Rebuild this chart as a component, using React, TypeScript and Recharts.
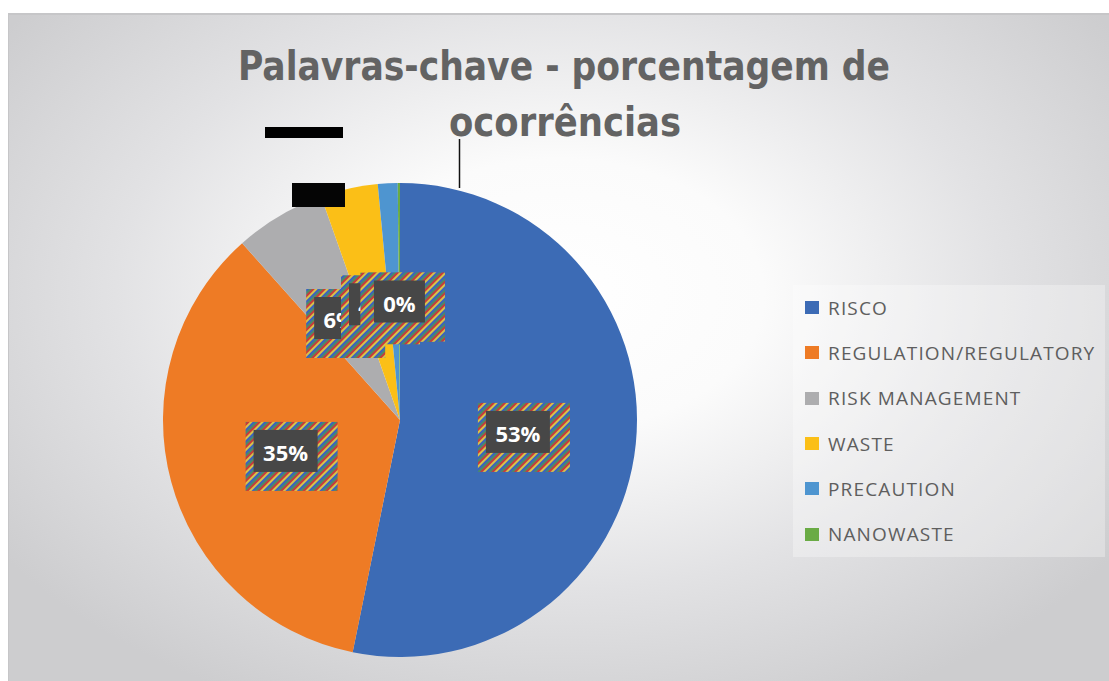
import React from 'react';
import { PieChart, Pie, Cell, Legend } from 'recharts';

// keyword shares (% of occurrences)
const keywords = ['RISCO', 'REGULATION/REGULATORY', 'RISK MANAGEMENT', 'WASTE', 'PRECAUTION', 'NANOWASTE'];
const shares = [53.2, 35.2, 6.2, 3.9, 1.35, 0.15];
const sliceColors = ['#3c6bb5', '#ee7b25', '#adadaf', '#fbbf17', '#4e95d0', '#6aab45'];

const titleLines = ['Palavras-chave - porcentagem de', 'ocorrências'];

const data = keywords.map((name, i) => ({ name, value: shares[i] }));

const RAD = Math.PI / 180;

const renderLabel = (props: any) => {
  const { cx, cy, midAngle, outerRadius, percent, index } = props;
  const r = outerRadius * 0.5;
  const x = cx + r * Math.cos(-midAngle * RAD);
  const y = cy + r * Math.sin(-midAngle * RAD);
  const text = `${Math.round(percent * 100)}%`;
  const w = (text.length - 1) * 13 + 38;
  const h = 42;
  const pid = `stripes-${index}`;
  return (
    <g>
      <defs>
        <pattern id={pid} width={8} height={8} patternUnits="userSpaceOnUse" patternTransform="rotate(45)">
          <rect x={0} y={0} width={2} height={8} fill="#c83a3a" />
          <rect x={2} y={0} width={2} height={8} fill="#d8c24a" />
          <rect x={4} y={0} width={2} height={8} fill="#3a62c0" />
          <rect x={6} y={0} width={2} height={8} fill="#4a8a6a" />
        </pattern>
      </defs>
      <rect x={x - w / 2 - 8} y={y - h / 2 - 8} width={w + 28} height={h + 27} fill={`url(#${pid})`} />
      <rect x={x - w / 2} y={y - h / 2} width={w} height={h} fill="#474747" />
      <text
        x={x}
        y={y + 1}
        fill="#ffffff"
        textAnchor="middle"
        dominantBaseline="central"
        fontFamily="'Open Sans', sans-serif"
        fontWeight={700}
        fontSize={22}
      >
        {text}
      </text>
    </g>
  );
};

const renderLegend = () => (
  <div>
    {keywords.map((k, i) => (
      <div key={k} style={{ display: 'flex', alignItems: 'center', height: 45.3, paddingLeft: 12 }}>
        <span style={{ display: 'inline-block', width: 14, height: 13, background: sliceColors[i], marginRight: 9 }} />
        <span
          style={{
            fontFamily: "'Open Sans', sans-serif",
            fontSize: 19,
            letterSpacing: 1.15,
            color: '#5e5e5e',
            whiteSpace: 'nowrap',
          }}
        >
          {k}
        </span>
      </div>
    ))}
  </div>
);

export default function App() {
  return (
    <div style={{ position: 'absolute', left: 0, top: 0, width: 1109, height: 681, background: '#ffffff', overflow: 'hidden' }}>
      <div
        style={{
          position: 'absolute',
          left: 8,
          top: 13,
          width: 1101,
          height: 668,
          boxSizing: 'border-box',
          borderTop: '2px solid #c6c6c8',
          borderLeft: '1px solid #c6c6c8',
          background:
            'radial-gradient(ellipse 62% 68% at 50% 42%, #ffffff 0%, #fbfbfb 30%, #e2e2e4 65%, #cdcdcf 100%)',
        }}
      >
        <PieChart
          width={1100}
          height={666}
          margin={{ top: 0, right: 0, bottom: 0, left: 0 }}
          style={{ position: 'absolute', left: 0, top: 0 }}
        >
          <Pie
            data={data}
            dataKey="value"
            nameKey="name"
            cx={391}
            cy={405}
            outerRadius={237}
            startAngle={90}
            endAngle={-270}
            stroke="none"
            labelLine={false}
            label={renderLabel}
            isAnimationActive={false}
          >
            {data.map((d, i) => (
              <Cell key={d.name} fill={sliceColors[i]} />
            ))}
          </Pie>
          <Legend
            content={renderLegend}
            wrapperStyle={{
              left: 784,
              top: 270,
              width: 312,
              height: 272,
              background: 'rgba(255,255,255,0.3)',
            }}
          />
        </PieChart>
      </div>
      <svg width={1109} height={681} style={{ position: 'absolute', left: 0, top: 0, pointerEvents: 'none' }}>
        <text
          x={238}
          y={80}
          textLength={652}
          lengthAdjust="spacingAndGlyphs"
          fontFamily="'Liberation Sans Narrow', 'DejaVu Sans Condensed', sans-serif"
          fontWeight={700}
          fontSize={40}
          fill="#636363"
        >
          {titleLines[0]}
        </text>
        <text
          x={449}
          y={136}
          textLength={232}
          lengthAdjust="spacingAndGlyphs"
          fontFamily="'Liberation Sans Narrow', 'DejaVu Sans Condensed', sans-serif"
          fontWeight={700}
          fontSize={40}
          fill="#636363"
        >
          {titleLines[1]}
        </text>
        <line x1={459.5} y1={139} x2={459.5} y2={188} stroke="#111" strokeWidth={1.5} />
        <rect x={265} y={127} width={78} height={11} fill="#000" />
        <rect x={292} y={183} width={53} height={24} fill="#050505" />
      </svg>
    </div>
  );
}
